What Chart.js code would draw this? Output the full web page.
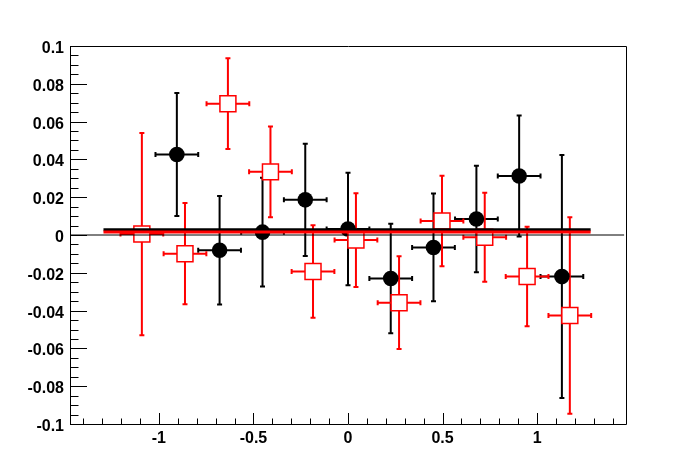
<!DOCTYPE html>
<html>
<head>
<meta charset="utf-8">
<script src="https://cdn.jsdelivr.net/npm/chart.js@4"></script>
<style>
  html, body { margin: 0; padding: 0; background: #fff; }
  #wrap { width: 696px; height: 472px; }
</style>
</head>
<body>
<div id="wrap"><canvas id="plot" width="696" height="472"></canvas></div>
<script>
// black points (filled circles)
let blackX = [-0.905, -0.679, -0.452, -0.226, 0, 0.226, 0.452, 0.679, 0.905, 1.131];
let blackY = [0.0426, -0.0081, 0.0015, 0.0186, 0.0032, -0.023, -0.0066, 0.0085, 0.0312, -0.022];
let blackErr = [0.0325, 0.0287, 0.0288, 0.0297, 0.0298, 0.029, 0.0285, 0.0282, 0.032, 0.0643];
// red points (open squares)
let redX = [-1.09, -0.862, -0.635, -0.41, -0.185, 0.042, 0.27, 0.497, 0.723, 0.947, 1.173];
let redY = [0.0005, -0.0099, 0.0695, 0.0334, -0.0193, -0.0027, -0.0358, 0.0074, -0.0012, -0.022, -0.0426];
let redErr = [0.0535, 0.0268, 0.024, 0.024, 0.0245, 0.0248, 0.0245, 0.024, 0.0236, 0.0263, 0.052];
let halfBin = 0.113;
// fitted constants
let fitX = [-1.293, 1.283];
let blackFit = 0.0028;
let redFit = 0.0016;
// axes
let xRange = [-1.47, 1.47];
let yRange = [-0.1, 0.1];
let xTicks = [-1, -0.5, 0, 0.5, 1];
let yTicks = [-0.1, -0.08, -0.06, -0.04, -0.02, 0, 0.02, 0.04, 0.06, 0.08, 0.1];

function pts(xs, ys) { return xs.map((x, i) => ({x: x, y: ys[i]})); }

// error bars + ROOT style inward ticks and frame
let rootStyle = {
  id: 'rootStyle',
  beforeDatasetsDraw(chart) {
    let ctx = chart.ctx, xs = chart.scales.x, ys = chart.scales.y;
    let bars = [[blackX, blackY, blackErr, 'black'], [redX, redY, redErr, 'red']];
    ctx.save();
    ctx.lineWidth = 2;
    bars.forEach(b => {
      ctx.strokeStyle = b[3];
      b[0].forEach((x, i) => {
        let px = xs.getPixelForValue(x), py = ys.getPixelForValue(b[1][i]);
        let x1 = xs.getPixelForValue(x - halfBin), x2 = xs.getPixelForValue(x + halfBin);
        let y1 = ys.getPixelForValue(b[1][i] + b[2][i]), y2 = ys.getPixelForValue(b[1][i] - b[2][i]);
        ctx.beginPath();
        ctx.moveTo(x1, py); ctx.lineTo(x2, py);
        ctx.moveTo(px, y1); ctx.lineTo(px, y2);
        ctx.moveTo(x1, py - 2.5); ctx.lineTo(x1, py + 2.5);
        ctx.moveTo(x2, py - 2.5); ctx.lineTo(x2, py + 2.5);
        ctx.moveTo(px - 2.5, y1); ctx.lineTo(px + 2.5, y1);
        ctx.moveTo(px - 2.5, y2); ctx.lineTo(px + 2.5, y2);
        ctx.stroke();
      });
    });
    ctx.restore();
  },
  afterDraw(chart) {
    let ctx = chart.ctx, xs = chart.scales.x, ys = chart.scales.y, a = chart.chartArea;
    ctx.save();
    ctx.strokeStyle = 'black';
    ctx.lineWidth = 1;
    ctx.beginPath();
    ctx.rect(Math.round(a.left) + 0.5, Math.round(a.top) + 0.5, Math.round(a.right - a.left), Math.round(a.bottom - a.top));
    // x ticks every 0.1, major every 0.5
    for (let k = -14; k <= 14; k++) {
      let px = Math.round(xs.getPixelForValue(k / 10)) + 0.5;
      let len = (k % 5 === 0) ? 11 : 5.5;
      ctx.moveTo(px, a.bottom); ctx.lineTo(px, a.bottom - len);
    }
    // y ticks every 0.005, major every 0.02
    for (let k = -20; k <= 20; k++) {
      let py = Math.round(ys.getPixelForValue(k * 0.005)) + 0.5;
      let len = (k % 4 === 0) ? 17 : 8.5;
      ctx.moveTo(a.left, py); ctx.lineTo(a.left + len, py);
    }
    ctx.stroke();
    ctx.restore();
  }
};

let chart = new Chart(document.getElementById('plot'), {
  type: 'scatter',
  data: {
    datasets: [
      { type: 'line', data: pts(fitX, [redFit, redFit]), borderColor: 'red', borderWidth: 3, pointRadius: 0, fill: false },
      { type: 'line', data: pts(fitX, [blackFit, blackFit]), borderColor: 'black', borderWidth: 3, pointRadius: 0, fill: false },
      { type: 'line', data: pts([xRange[0], 1.46], [0, 0]), borderColor: 'black', borderWidth: 1, pointRadius: 0, fill: false },
      { data: pts(redX, redY), pointStyle: 'rect', pointRadius: 11.3, pointBorderWidth: 1.5,
        pointBorderColor: 'red', pointBackgroundColor: 'white' },
      { data: pts(blackX, blackY), pointStyle: 'circle', pointRadius: 7.8, pointBorderWidth: 0,
        pointBorderColor: 'black', pointBackgroundColor: 'black' }
    ]
  },
  options: {
    responsive: false,
    animation: false,
    events: [],
    layout: { padding: { left: 0, top: 46, right: 70, bottom: 0 } },
    plugins: { legend: { display: false }, tooltip: { enabled: false } },
    scales: {
      x: {
        type: 'linear', min: xRange[0], max: xRange[1],
        grid: { display: false, drawTicks: false },
        border: { display: false },
        afterBuildTicks: s => { s.ticks = xTicks.map(v => ({value: v})); },
        afterFit: s => { s.height = 48; },
        ticks: { padding: 5, color: 'black', font: { family: 'Liberation Sans', size: 16, weight: 'bold' },
          callback: v => String(v) }
      },
      y: {
        type: 'linear', min: yRange[0], max: yRange[1],
        grid: { display: false, drawTicks: false },
        border: { display: false },
        afterBuildTicks: s => { s.ticks = yTicks.map(v => ({value: v})); },
        afterFit: s => { s.width = 70; },
        ticks: { padding: 6, labelOffset: 2.5, color: 'black', font: { family: 'Liberation Sans', size: 16, weight: 'bold' },
          callback: v => String(+v.toFixed(3)) }
      }
    }
  },
  plugins: [rootStyle]
});
</script>
</body>
</html>
